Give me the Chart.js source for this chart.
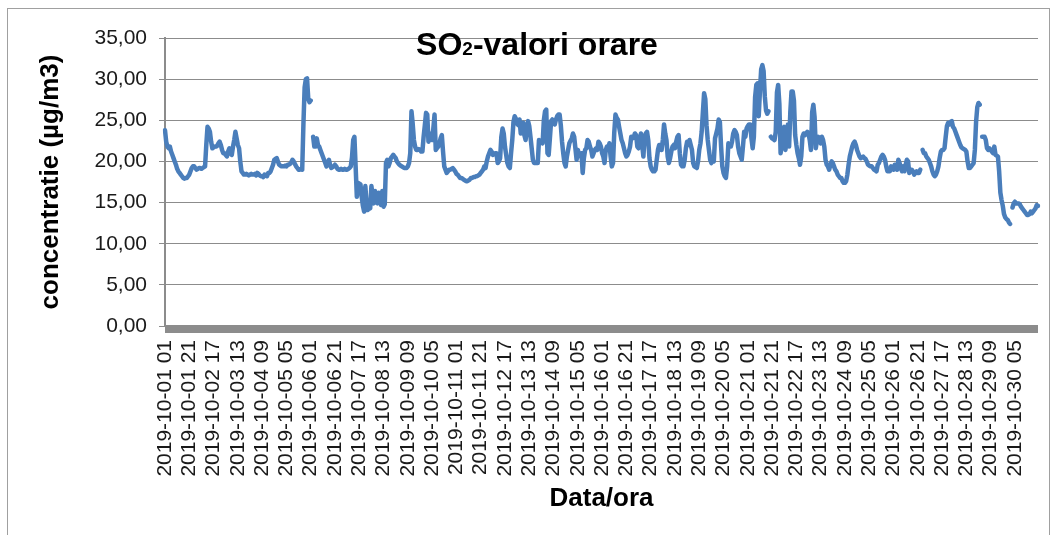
<!DOCTYPE html>
<html lang="ro">
<head>
    <meta charset="UTF-8">
    <title>SO2-valori orare</title>
    <script src="https://cdn.jsdelivr.net/npm/chart.js"></script>
    <style>
        body { margin: 0; background: #fff; }
        #wrap { position: relative; width: 1059px; height: 535px; overflow: hidden; }
        #frame { position: absolute; left: 7px; top: 8px; width: 1043px; height: 540px; border: 1px solid #a0a0a0; box-sizing: border-box; }
        #box { position: absolute; left: 0; top: 0; width: 1059px; height: 535px; }
    </style>
</head>
<body>
<div id="wrap">
    <div id="frame"></div>
    <div id="box"><canvas id="myChart"></canvas></div>
</div>
<script>
    // valori orare SO2 (µg/m3), cate o zi pe rand, ore 01..24
    const oct01 = [23.8, 22.4, 21.8, 21.6, 21.8, 21.2, 20.8, 20.4, 20.0, 19.6, 19.1, 18.8, 18.6, 18.4, 18.2, 18.0, 17.9, 18.0, 18.0, 18.2, 18.4, 18.8, 19.2, 19.4];
    const oct02 = [19.4, 19.2, 19.0, 19.1, 19.2, 19.2, 19.1, 19.2, 19.3, 19.4, 22.0, 24.2, 24.0, 23.6, 22.4, 21.6, 21.7, 21.8, 21.8, 21.9, 22.2, 22.4, 22.0, 21.4];
    const oct03 = [21.0, 21.0, 20.8, 20.6, 21.2, 21.6, 21.0, 20.8, 21.8, 22.6, 23.6, 22.8, 22.0, 21.6, 20.0, 18.8, 18.6, 18.4, 18.4, 18.5, 18.4, 18.3, 18.4, 18.5];
    const oct04 = [18.4, 18.4, 18.5, 18.3, 18.6, 18.5, 18.3, 18.2, 18.2, 18.1, 18.4, 18.3, 18.2, 18.6, 18.6, 18.8, 19.2, 19.6, 20.2, 20.3, 20.4, 20.0, 19.6, 19.5];
    const oct05 = [19.4, 19.4, 19.4, 19.5, 19.4, 19.6, 19.6, 19.7, 19.9, 20.2, 20.0, 19.7, 19.4, 19.2, 19.0, 19.0, 19.1, 19.0, 24.5, 29.0, 30.0, 30.1, 27.6, 27.2];
    const oct06 = [27.4, null, 23.0, 21.8, 21.8, 22.8, 22.0, 21.8, 21.4, 21.0, 20.6, 20.2, 19.8, 19.4, 19.8, 20.2, 19.6, 19.2, 19.3, 19.4, 19.6, 19.4, 19.1, 19.0];
    const oct07 = [19.0, 19.1, 19.0, 19.0, 19.1, 19.0, 19.0, 19.1, 19.2, 19.4, 20.5, 22.6, 23.0, 19.4, 15.7, 17.4, 17.3, 17.2, 15.7, 14.6, 13.9, 17.0, 14.9, 14.1];
    const oct08 = [14.4, 14.3, 17.0, 15.8, 14.9, 16.4, 15.6, 14.9, 16.2, 15.2, 14.7, 16.4, 14.5, 14.8, 19.8, 20.2, 19.4, 19.8, 20.4, 20.6, 20.8, 20.6, 20.4, 20.0];
    const oct09 = [19.8, 19.6, 19.5, 19.4, 19.3, 19.2, 19.2, 19.2, 19.4, 19.8, 21.0, 26.1, 24.6, 22.6, 21.8, 21.4, 21.4, 21.5, 21.4, 21.2, 21.2, 23.0, 24.4, 25.9];
    const oct10 = [25.7, 22.4, 23.4, 23.0, 22.6, 24.0, 25.7, 21.4, 21.6, 21.8, 22.2, 22.8, 23.2, 21.2, 19.4, 19.0, 18.6, 18.8, 19.0, 19.0, 19.1, 19.2, 19.0, 18.8];
    const oct11 = [18.5, 18.4, 18.2, 18.0, 18.0, 17.9, 17.8, 17.7, 17.6, 17.6, 17.7, 17.8, 18.0, 18.0, 18.1, 18.1, 18.2, 18.2, 18.3, 18.4, 18.6, 18.8, 19.0, 19.4];
    const oct12 = [19.2, 20.0, 20.6, 21.0, 21.4, 21.2, 20.8, 20.9, 21.0, 21.0, 19.8, 20.0, 20.4, 23.0, 24.0, 23.4, 21.8, 20.8, 19.8, 19.4, 19.2, 21.0, 22.6, 24.8];
    const oct13 = [25.5, 25.2, 24.6, 24.4, 25.1, 23.4, 24.0, 24.7, 23.2, 22.6, 24.2, 24.9, 24.3, 23.0, 21.6, 20.2, 19.8, 19.8, 19.8, 19.8, 22.6, 22.4, 22.3, 22.2];
    const oct14 = [25.0, 26.1, 26.3, 21.0, 20.8, 22.8, 24.9, 25.1, 24.6, 24.5, 25.1, 25.5, 25.7, 25.7, 24.4, 22.4, 21.0, 19.8, 19.4, 20.6, 21.4, 22.2, 22.5, 22.8];
    const oct15 = [23.4, 23.0, 21.6, 20.2, 21.4, 20.8, 20.6, 21.0, 18.6, 20.4, 21.4, 21.6, 22.6, 22.4, 21.8, 21.4, 20.6, 21.0, 21.4, 21.6, 21.4, 22.4, 22.2, 21.8];
    const oct16 = [21.0, 20.6, 19.8, 21.4, 21.8, 21.4, 22.2, 20.6, 19.4, 19.8, 23.5, 25.7, 25.3, 25.1, 24.2, 23.4, 22.6, 22.2, 21.6, 21.0, 20.6, 20.8, 21.2, 21.8];
    const oct17 = [23.0, 22.8, 22.9, 23.4, 23.2, 21.8, 21.6, 22.6, 23.4, 22.0, 20.6, 23.0, 23.4, 23.6, 22.6, 20.4, 19.4, 19.0, 18.8, 18.8, 19.0, 20.2, 21.4, 22.0];
    const oct18 = [21.8, 21.4, 22.6, 24.5, 23.4, 22.6, 20.6, 19.8, 20.4, 21.2, 21.8, 22.0, 21.6, 22.4, 23.0, 23.2, 21.0, 19.6, 19.4, 19.4, 20.2, 21.6, 22.4, 22.0];
    const oct19 = [22.6, 22.0, 21.4, 19.8, 19.4, 19.3, 19.2, 20.0, 21.4, 22.2, 23.6, 26.0, 28.3, 27.6, 24.4, 22.6, 21.4, 20.2, 19.8, 20.2, 20.0, 22.8, 23.4, 24.0];
    const oct20 = [25.1, 24.8, 21.8, 19.4, 18.6, 18.2, 18.0, 19.4, 22.2, 21.8, 21.8, 22.4, 23.4, 23.8, 23.6, 23.2, 21.8, 21.0, 20.6, 20.2, 21.8, 23.6, 23.0, 24.0];
    const oct21 = [24.3, 24.5, 24.5, 22.8, 21.6, 23.0, 27.8, 29.3, 29.5, 25.5, 28.6, 31.2, 31.7, 31.0, 27.9, 26.2, 25.8, 26.1, null, 23.0, 22.8, 22.7, 22.6, 23.6];
    const oct22 = [28.4, 29.3, 27.0, 21.0, 22.0, 23.6, 24.2, 21.4, 23.0, 24.5, 21.8, 26.0, 28.5, 28.5, 27.4, 23.2, 22.0, 21.0, 20.4, 19.6, 20.6, 23.0, 23.4, 23.2];
    const oct23 = [23.4, 23.6, 23.4, 22.6, 21.4, 26.0, 26.9, 25.4, 21.6, 22.6, 23.0, 22.6, 22.2, 23.0, 22.6, 21.8, 20.2, 19.6, 19.4, 19.0, 19.6, 20.0, 19.8, 19.4];
    const oct24 = [19.0, 18.8, 18.4, 18.2, 18.0, 18.0, 17.6, 17.4, 17.4, 17.6, 18.4, 19.6, 20.6, 21.2, 21.8, 22.2, 22.4, 22.0, 21.4, 21.0, 20.6, 20.4, 20.5, 20.6];
    const oct25 = [20.4, 20.3, 20.0, 19.6, 19.5, 19.4, 19.4, 19.2, 19.0, 18.9, 18.8, 19.6, 19.8, 20.2, 20.6, 20.8, 20.6, 20.2, 19.4, 18.8, 18.8, 18.8, 19.4, 19.2];
    const oct26 = [19.0, 19.6, 19.4, 19.0, 20.2, 19.8, 19.2, 18.8, 19.4, 18.8, 19.6, 20.2, 20.0, 18.6, 19.0, 19.0, 18.8, 18.4, 18.6, 18.8, 18.6, 18.6, 19.0, null];
    const oct27 = [21.4, 21.0, 21.0, 20.6, 20.4, 20.2, 19.8, 19.4, 18.8, 18.4, 18.2, 18.4, 18.8, 19.4, 20.4, 21.2, 21.4, 21.4, 21.6, 23.0, 24.3, 24.7, 24.5, 24.8];
    const oct28 = [24.9, 24.2, 24.0, 23.6, 23.2, 22.8, 22.4, 22.0, 21.7, 21.6, 21.5, 21.4, 21.2, 20.0, 19.2, 19.2, 19.4, 19.6, 19.8, 21.4, 24.8, 26.6, 27.1, 26.9];
    const oct29 = [null, 23.0, 23.0, 23.0, 22.6, 21.6, 21.4, 21.6, 21.4, 21.2, 21.0, 21.8, 20.8, 20.7, 20.6, 18.8, 16.2, 15.3, 14.6, 13.6, 13.2, 13.0, 12.9, 12.6];
    const oct30 = [12.4, null, 14.4, 14.9, 15.1, 14.9, 14.9, 14.9, 14.8, 14.5, 14.3, 14.1, 13.9, 13.7, 13.5, 13.5, 13.6, 13.9, 13.7, 13.9, 14.1, 14.3, 14.7, 14.6];

    const zile = [oct01, oct02, oct03, oct04, oct05, oct06, oct07, oct08, oct09, oct10,
                  oct11, oct12, oct13, oct14, oct15, oct16, oct17, oct18, oct19, oct20,
                  oct21, oct22, oct23, oct24, oct25, oct26, oct27, oct28, oct29, oct30];

    // etichete data/ora: 2019-10-dd hh, ore 01..24
    const labels = [];
    const so2 = [];
    zile.forEach((zi, d) => {
        zi.forEach((v, h) => {
            const dd = String(d + 1).padStart(2, '0');
            const hh = String(h + 1).padStart(2, '0');
            labels.push('2019-10-' + dd + ' ' + hh);
            so2.push(v);
        });
    });
    const tickEvery = 20;

    const FONT = "'Liberation Sans', Arial, sans-serif";

    // titlul cu indice (SO2) + banda gri a axei X
    const decor = {
        id: 'decor',
        beforeDatasetsDraw(chart) {
            const {ctx, chartArea} = chart;
            ctx.save();
            ctx.fillStyle = '#8c8c8c';
            ctx.fillRect(chartArea.left, chartArea.bottom - 1, chartArea.right - chartArea.left, 8);
            ctx.restore();
        },
        afterDraw(chart) {
            const ctx = chart.ctx;
            ctx.save();
            ctx.fillStyle = '#000';
            ctx.textBaseline = 'alphabetic';
            ctx.textAlign = 'left';
            const big = 'bold 32px ' + FONT;
            const small = 'bold 19px ' + FONT;
            ctx.font = big;
            const w1 = ctx.measureText('SO').width;
            const w3 = ctx.measureText('-valori orare').width;
            ctx.font = small;
            const w2 = ctx.measureText('2').width;
            let x = 537 - (w1 + w2 + w3) / 2;
            const y = 55;
            ctx.font = big;
            ctx.fillText('SO', x, y);
            x += w1;
            ctx.font = small;
            ctx.fillText('2', x, y);
            x += w2;
            ctx.font = big;
            ctx.fillText('-valori orare', x, y);
            ctx.restore();
        }
    };

    const ctx = document.getElementById('myChart').getContext('2d');
    const myChart = new Chart(ctx, {
        type: 'line',
        data: {
            labels: labels,
            datasets: [{
                label: 'SO2',
                data: so2,
                borderColor: '#4a7ebb',
                borderWidth: 4.5,
                pointRadius: 0,
                tension: 0,
                spanGaps: false,
                borderJoinStyle: 'round',
                borderCapStyle: 'round'
            }]
        },
        options: {
            responsive: true,
            maintainAspectRatio: false,
            animation: false,
            layout: { padding: { left: 8, top: 38, right: 21, bottom: 0 } },
            plugins: {
                legend: { display: false },
                tooltip: { enabled: false }
            },
            scales: {
                x: {
                    grid: { display: false, drawTicks: false },
                    border: { display: false },
                    ticks: {
                        autoSkip: false,
                        minRotation: 90,
                        maxRotation: 90,
                        padding: 14,
                        color: '#1a1a1a',
                        font: { family: FONT, size: 21 },
                        callback: (v, i) => (i % tickEvery === 0 ? labels[i] : '')
                    },
                    title: {
                        display: true,
                        text: 'Data/ora',
                        color: '#000',
                        font: { family: FONT, size: 26, weight: 'bold' },
                        padding: { top: 0, bottom: 21 }
                    },
                    afterFit: (scale) => {
                        scale.height = 209;
                        scale.paddingLeft = 0;
                        scale.paddingRight = 0;
                    }
                },
                y: {
                    min: 0,
                    max: 35,
                    grid: { color: '#8c8c8c', lineWidth: 1, tickLength: 6, drawTicks: true },
                    border: { display: true, color: '#8c8c8c', width: 2 },
                    ticks: {
                        stepSize: 5,
                        padding: 12,
                        color: '#1a1a1a',
                        font: { family: FONT, size: 21 },
                        callback: (v) => v.toFixed(2).replace('.', ',')
                    },
                    title: {
                        display: true,
                        text: 'concentratie (µg/m3)',
                        color: '#000',
                        font: { family: FONT, size: 26, weight: 'bold' },
                        padding: { top: 27, bottom: 0 }
                    },
                    afterFit: (scale) => { scale.width = 157; }
                }
            }
        },
        plugins: [decor]
    });
</script>
</body>
</html>
